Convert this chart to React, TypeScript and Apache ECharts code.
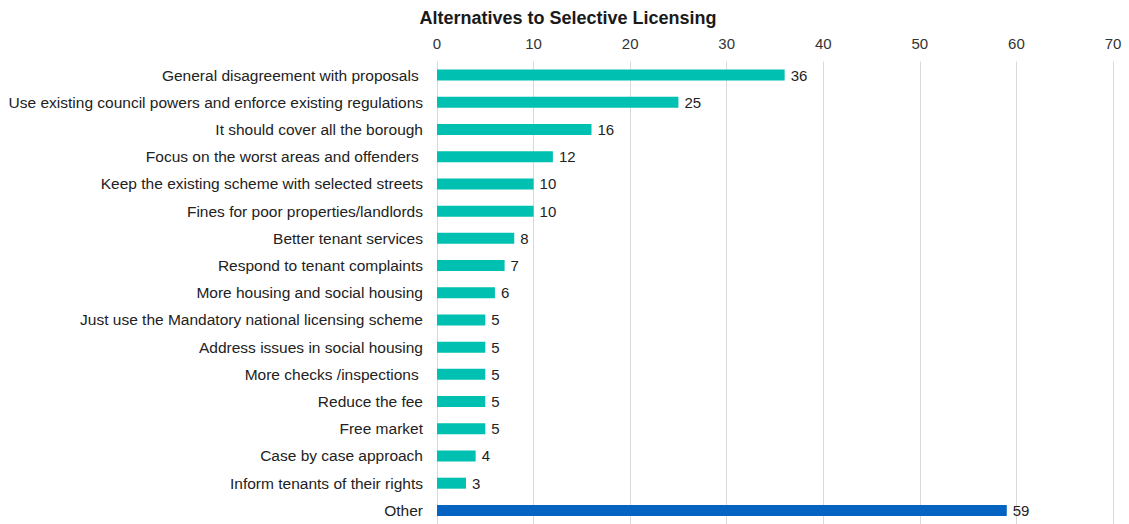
import React, { useEffect, useRef } from "react";
import * as echarts from "echarts";

const categories = [
  "General disagreement with proposals ",
  "Use existing council powers and enforce existing regulations",
  "It should cover all the borough",
  "Focus on the worst areas and offenders ",
  "Keep the existing scheme with selected streets",
  "Fines for poor properties/landlords",
  "Better tenant services",
  "Respond to tenant complaints",
  "More housing and social housing",
  "Just use the Mandatory national licensing scheme",
  "Address issues in social housing",
  "More checks /inspections ",
  "Reduce the fee",
  "Free market",
  "Case by case approach",
  "Inform tenants of their rights",
  "Other",
];
const values = [36, 25, 16, 12, 10, 10, 8, 7, 6, 5, 5, 5, 5, 5, 4, 3, 59];
const tickMin = 0;
const tickMax = 70;
const tickStep = 10;
const title = "Alternatives to Selective Licensing";

export default function App() {
  const ref = useRef<HTMLDivElement>(null);
  useEffect(() => {
    if (!ref.current) return;
    const chart = echarts.init(ref.current, undefined, { renderer: "svg" });
    const font = "Liberation Sans, Arial, sans-serif";
    chart.setOption({
      animation: false,
      title: {
        text: title,
        left: 563,
        top: 4,
        textAlign: "center",
        textStyle: { fontFamily: font, fontSize: 18, fontWeight: "bold", color: "#1a1a1a" },
      },
      grid: { left: 437, right: 16, top: 61.5, height: 466.5, containLabel: false },
      xAxis: {
        type: "value",
        position: "top",
        min: tickMin,
        max: tickMax,
        interval: tickStep,
        axisLine: { show: false },
        axisTick: { show: false },
        axisLabel: { fontFamily: font, fontSize: 15, color: "#333", margin: 10.5 },
        splitLine: { show: true, lineStyle: { color: "#d9d9d9", width: 1 } },
      },
      yAxis: {
        type: "category",
        data: categories,
        inverse: true,
        axisLine: { show: false },
        axisTick: { show: false },
        axisLabel: { fontFamily: font, fontSize: 15.5, color: "#222", margin: 14 },
      },
      series: [
        {
          type: "bar",
          data: values.map((v, i) => ({
            value: v,
            itemStyle: {
              color: i === values.length - 1 ? "#0563C1" : "#00C0B2",
            },
          })),
          barWidth: 11,
          label: {
            show: true,
            position: "right",
            distance: 6,
            fontFamily: font,
            fontSize: 15,
            color: "#222",
          },
        },
      ],
    });
    return () => chart.dispose();
  }, []);
  return (
    <div
      ref={ref}
      style={{ position: "fixed", left: 0, top: 0, width: 1129, height: 524, background: "#fff" }}
    />
  );
}
